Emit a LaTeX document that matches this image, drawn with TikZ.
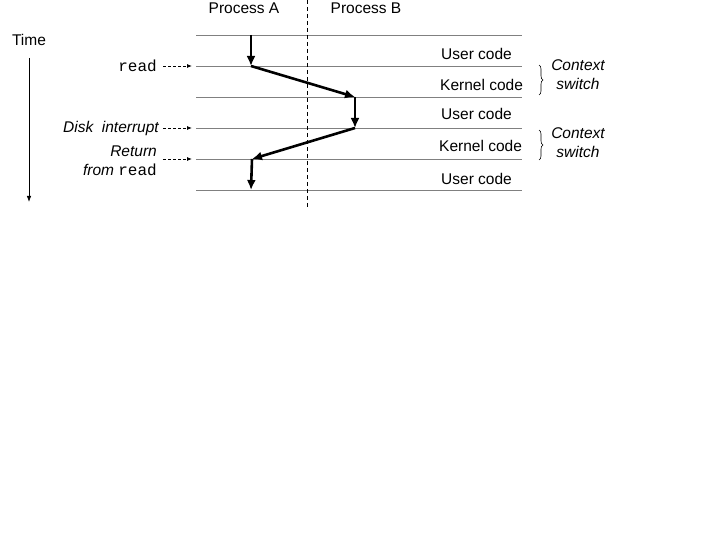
\documentclass[tikz,border=0pt]{standalone}
\usepackage{fontspec}
\setmainfont{Liberation Sans}
\setmonofont{Liberation Mono}
\usetikzlibrary{arrows.meta,decorations.pathreplacing}
\newcommand{\code}[1]{\texttt{#1}}

\begin{document}
\begin{tikzpicture}[x=1pt, y=-1pt,
  txt/.style={inner sep=0pt, font=\fontsize{15.5}{19}\selectfont},
  label/.style={txt, font=\fontsize{15.5}{19}\selectfont\itshape},
  track/.style={draw=black!50, line width=0.8pt},
  flow/.style={line width=2.6pt, -{Latex[length=10pt,width=9pt]}},
  pointer/.style={line width=0.8pt, dash pattern=on 3pt off 2pt,
    -{Latex[length=5pt,width=4pt]}},
  bracket/.style={decorate, decoration={brace, amplitude=4pt}, line width=0.6pt}]
\useasboundingbox (0,0) rectangle (720,540);
\foreach \y [count=\i] in {35,66,97,128,159,190}{
  \coordinate (w\i) at (196,\y);
  \coordinate (e\i) at (522,\y);
  \draw[track] (w\i) -- (e\i);
}
\node[txt] (procA) at (244,8) {Process A};
\node[txt] (procB) at (366,8) {Process B};
\coordinate (top) at (307,0);
\coordinate (bottom) at (307,208);
\draw[line width=0.7pt, dash pattern=on 4pt off 3pt] (top) -- (bottom);
\node[txt] (time) at (29,40) {Time};
\coordinate (t0) at (29,58);
\coordinate (t1) at (29,202);
\draw[line width=0.8pt, -{Latex[length=6pt,width=4.5pt]}] (t0) -- (t1);
\coordinate (a0) at (251,35);
\coordinate (a1) at (251,66);
\coordinate (b1) at (355,97);
\coordinate (b2) at (355,128);
\coordinate (a2) at (252,159);
\coordinate (a3) at (251,190);
\draw[flow] (a0) -- (a1);
\draw[flow] (a1) -- (b1);
\draw[flow] (b1) -- (b2);
\draw[flow] (b2) -- (a2);
\draw[flow] (a2) -- (a3);
\node[txt, anchor=east] (read) at (157,66) {\fontsize{16}{19}\selectfont\code{read}};
\node[label, anchor=east] (disk) at (159,128) {Disk\ \ interrupt};
\node[txt, anchor=east, align=right] (ret) at (157,161)
  {\itshape Return~\\\itshape from \upshape\fontsize{16}{19}\selectfont\code{read}};
\coordinate (p2) at (192,66);
\coordinate (p4) at (192,128);
\coordinate (p5) at (192,159);
\draw[pointer] (163,66) -- (p2);
\draw[pointer] (163,128) -- (p4);
\draw[pointer] (163,159) -- (p5);
\node[txt, anchor=west] (user1) at (441,54) {User code};
\node[txt, anchor=west] (kern1) at (440,85) {Kernel code};
\node[txt, anchor=west] (user2) at (441,114) {User code};
\node[txt, anchor=west] (kern2) at (439,146) {Kernel code};
\node[txt, anchor=west] (user3) at (441,179) {User code};
\coordinate (c1) at (539,65);
\coordinate (c2) at (539,95);
\coordinate (c3) at (539,130);
\coordinate (c4) at (539,160);
\draw[bracket] (c1) -- (c2);
\draw[bracket] (c3) -- (c4);
\node[label, align=center] (sw1) at (578,75) {Context\\switch};
\node[label, align=center] (sw2) at (578,142.5) {Context\\switch};
\end{tikzpicture}
\end{document}
